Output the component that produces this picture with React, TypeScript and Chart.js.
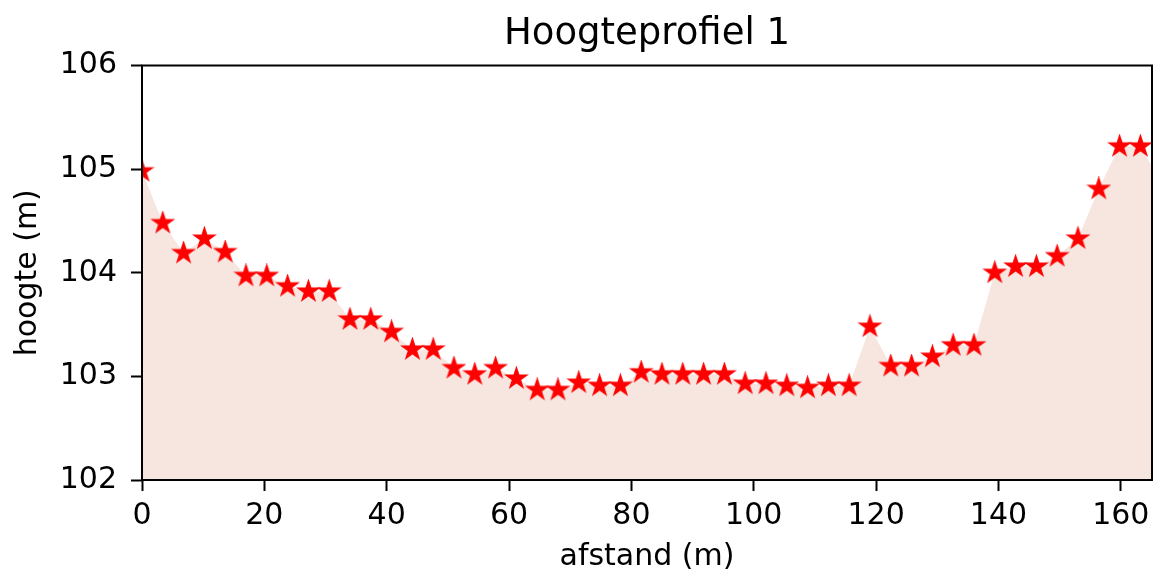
import { useEffect, useRef } from 'react';
import { Chart, registerables } from 'chart.js';

Chart.register(...registerables);

const chartTitle = 'Hoogteprofiel 1';
const xAxisLabel = 'afstand (m)';
const yAxisLabel = 'hoogte (m)';

const distances = [
  0, 3.4, 6.8, 10.2, 13.6, 17, 20.4, 23.8, 27.2, 30.6,
  34, 37.4, 40.8, 44.2, 47.6, 51, 54.4, 57.8, 61.2, 64.6,
  68, 71.4, 74.8, 78.2, 81.6, 85, 88.4, 91.8, 95.2, 98.6,
  102, 105.4, 108.8, 112.2, 115.6, 119, 122.4, 125.8, 129.2, 132.6,
  136, 139.4, 142.8, 146.2, 149.6, 153, 156.4, 159.8, 163.2, 166.6,
];

const heights = [
  104.98, 104.48, 104.19, 104.33, 104.2, 103.97, 103.97, 103.87, 103.82, 103.82,
  103.55, 103.55, 103.43, 103.26, 103.26, 103.08, 103.02, 103.08, 102.98, 102.87,
  102.87, 102.94, 102.91, 102.91, 103.04, 103.02, 103.02, 103.02, 103.02, 102.93,
  102.93, 102.91, 102.89, 102.91, 102.91, 103.48, 103.1, 103.1, 103.19, 103.3,
  103.3, 104.0, 104.06, 104.06, 104.16, 104.33, 104.81, 105.22, 105.22, 104.87,
];

const xTicks = [0, 20, 40, 60, 80, 100, 120, 140, 160];
const yTicks = [102, 103, 104, 105, 106];
const xMin = 0;
const xMax = 165.1;
const yMin = 102;
const yMax = 106;

function makeStar(r: number, color: string): HTMLCanvasElement {
  const pad = 3;
  const size = Math.ceil(r * 2 + pad * 2);
  const c = document.createElement('canvas');
  c.width = size;
  c.height = size;
  const ctx = c.getContext('2d')!;
  const cx = size / 2;
  const cy = size / 2;
  ctx.beginPath();
  for (let i = 0; i < 10; i++) {
    const rad = i % 2 === 0 ? r : r * 0.381966;
    const a = -Math.PI / 2 + (i * Math.PI) / 5;
    const px = cx + rad * Math.cos(a);
    const py = cy + rad * Math.sin(a);
    if (i === 0) ctx.moveTo(px, py);
    else ctx.lineTo(px, py);
  }
  ctx.closePath();
  ctx.fillStyle = color;
  ctx.fill();
  ctx.lineWidth = 2.2;
  ctx.lineJoin = 'miter';
  ctx.strokeStyle = color;
  ctx.stroke();
  return c;
}

const spinesPlugin = {
  id: 'spines',
  afterDatasetsDraw(chart: any) {
    const { ctx, chartArea } = chart;
    const { left, right, top, bottom } = chartArea;
    ctx.save();
    ctx.strokeStyle = '#000';
    ctx.lineWidth = 2;
    ctx.strokeRect(left, top, right - left, bottom - top);
    ctx.restore();
  },
};

export default function App() {
  const canvasRef = useRef<HTMLCanvasElement | null>(null);

  useEffect(() => {
    if (!canvasRef.current) return;
    Chart.defaults.font.family = '"DejaVu Sans", sans-serif';
    Chart.defaults.color = '#000';
    const star = makeStar(9.5, '#ff0000');
    const points = distances.map((d, i) => ({ x: d, y: heights[i] }));

    const chart = new Chart(canvasRef.current, {
      type: 'line',
      data: {
        datasets: [
          {
            data: points,
            xAxisID: 'x',
            yAxisID: 'y',
            borderColor: 'rgba(0,0,0,0)',
            borderWidth: 0,
            backgroundColor: 'rgb(247,229,223)',
            fill: 'start',
            tension: 0,
            pointStyle: star as any,
            pointRadius: 9,
            pointHoverRadius: 9,
            clip: 0 as any,
          },
        ],
      },
      options: {
        animation: false,
        responsive: false,
        devicePixelRatio: 1,
        events: [],
        layout: { padding: { left: 0, right: 5, top: 0, bottom: 0 } },
        plugins: {
          legend: { display: false },
          tooltip: { enabled: false },
          title: { display: false },
        },
        scales: {
          x: {
            type: 'linear',
            position: 'bottom',
            min: xMin,
            max: xMax,
            afterFit: (scale: any) => {
              scale.height = 98;
            },
            afterBuildTicks: (scale: any) => {
              scale.ticks = xTicks.map((v) => ({ value: v }));
            },
            ticks: {
              color: '#000',
              font: { size: 30 },
              padding: 7,
              maxRotation: 0,
              autoSkip: false,
            },
            grid: {
              drawOnChartArea: false,
              drawTicks: true,
              tickLength: 11,
              tickWidth: 2,
              tickColor: '#000',
            },
            border: { display: false },
            title: {
              display: true,
              text: xAxisLabel,
              color: '#000',
              font: { size: 30 },
              padding: { top: 0, bottom: 3 },
            },
          },
          xTitle: {
            type: 'linear',
            position: 'top',
            min: xMin,
            max: xMax,
            afterFit: (scale: any) => {
              scale.height = 65.5;
            },
            ticks: { display: false },
            grid: { display: false, drawTicks: false },
            border: { display: false },
            title: {
              display: true,
              text: chartTitle,
              color: '#000',
              font: { size: 37, weight: 'normal' },
              padding: { top: 12.3, bottom: 0 },
            },
          },
          y: {
            type: 'linear',
            min: yMin,
            max: yMax,
            afterFit: (scale: any) => {
              scale.width = 142;
            },
            afterBuildTicks: (scale: any) => {
              scale.ticks = yTicks.map((v) => ({ value: v }));
            },
            ticks: {
              color: '#000',
              font: { size: 30 },
              padding: 14,
              autoSkip: false,
            },
            grid: {
              drawOnChartArea: false,
              drawTicks: true,
              tickLength: 11,
              tickWidth: 2,
              tickColor: '#000',
            },
            border: { display: false },
            title: {
              display: true,
              text: yAxisLabel,
              color: '#000',
              font: { size: 30 },
              padding: { top: 10, bottom: 0 },
            },
          },
        },
      },
      plugins: [spinesPlugin],
    });

    return () => {
      chart.destroy();
    };
  }, []);

  return (
    <div style={{ position: 'absolute', left: 0, top: 0, width: 1161, height: 578, background: '#fff' }}>
      <canvas ref={canvasRef} width={1161} height={578} style={{ display: 'block', width: 1161, height: 578 }} />
    </div>
  );
}
